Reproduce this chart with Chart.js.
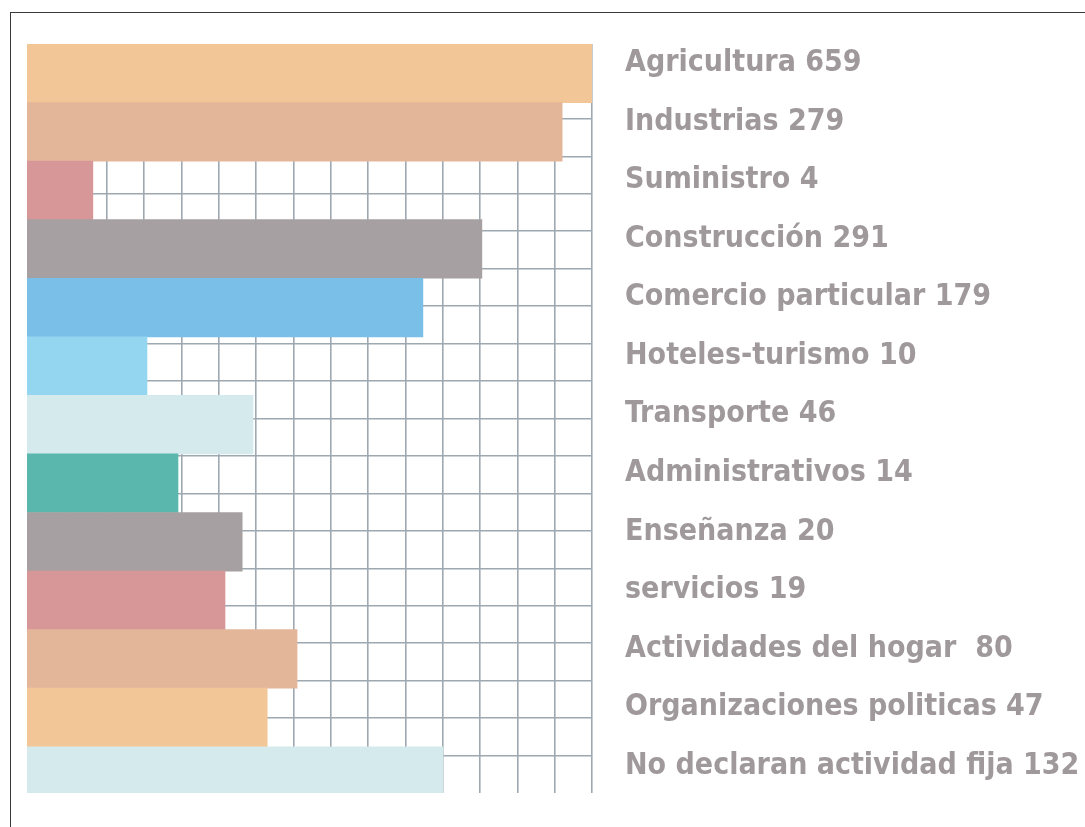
<!DOCTYPE html>
<html>
<head>
<meta charset="utf-8">
<script src="https://cdn.jsdelivr.net/npm/chart.js@4.4.1/dist/chart.umd.min.js"></script>
<style>
  html, body { margin: 0; padding: 0; background: #fff; }
  #wrap { position: relative; width: 1085px; height: 827px; }
  #marco {
    position: absolute; left: 10px; top: 12px; right: 0; bottom: 0;
    border-top: 1.5px solid #3a3a3a; border-left: 1.5px solid #3a3a3a;
    pointer-events: none;
  }
</style>
</head>
<body>
<div id="wrap">
  <canvas id="grafico" width="1085" height="827"></canvas>
  <div id="marco"></div>
</div>
<script>
// sectores de actividad y número de personas (texto de la derecha)
const sectores = [
  "Agricultura", "Industrias", "Suministro", "Construcción", "Comercio particular",
  "Hoteles-turismo", "Transporte", "Administrativos", "Enseñanza", "servicios",
  "Actividades del hogar ", "Organizaciones politicas", "No declaran actividad fija"
];
const personas = [659, 279, 4, 291, 179, 10, 46, 14, 20, 19, 80, 47, 132];

// largo de cada barra tal como está dibujada, en cuadros de la cuadrícula
const largoBarra = [15.0, 14.2, 1.63, 12.05, 10.47, 3.08, 5.92, 3.91, 5.63, 5.17, 7.1, 6.3, 11.01];

const colores = [
  "#f2c696", "#e3b69a", "#d79798", "#a6a0a2", "#7abfe7", "#94d5ef", "#d5eaec",
  "#5ab7ad", "#a6a0a2", "#d79798", "#e3b69a", "#f2c696", "#d5eaec"
];

const etiquetas = sectores.map((s, i) => `${s} ${personas[i]}`);

const X_MIN = -0.134; // las barras empiezan un poco antes de la cuadrícula
const colorGrid = "#9ea8b0";

new Chart(document.getElementById("grafico"), {
  type: "bar",
  data: {
    datasets: [
      {
        data: largoBarra.map((v, i) => ({ x: v, y: i })),
        backgroundColor: colores,
        borderWidth: 0,
        base: X_MIN,
        categoryPercentage: 1,
        barPercentage: 1,
        xAxisID: "x",
        yAxisID: "y",
      },
    ],
  },
  options: {
    indexAxis: "y",
    responsive: false,
    animation: false,
    layout: { padding: { left: 27, top: 44, right: 0, bottom: 34 } },
    plugins: { legend: { display: false }, tooltip: { enabled: false } },
    scales: {
      x: {
        type: "linear",
        position: "bottom",
        min: X_MIN,
        max: 15,
        offset: false,
        grid: { color: colorGrid, lineWidth: 1.6, drawTicks: false, offset: false },
        border: { display: false },
        ticks: { display: false },
        afterBuildTicks: (axis) => {
          axis.ticks = [];
          for (let i = 0; i <= 15; i++) axis.ticks.push({ value: i });
        },
        afterFit: (axis) => {
          axis.height = 0;
          axis.paddingLeft = axis.paddingRight = 0;
        },
      },
      y: {
        type: "linear",
        position: "right",
        reverse: true,
        min: -0.5,
        max: 12.29,
        offset: false,
        grid: { display: false, drawTicks: false, offset: false },
        border: { display: false },
        ticks: {
          color: "#9f999c",
          padding: 33,
          labelOffset: -10,
          font: { family: "'DejaVu Sans Condensed', sans-serif", size: 30, weight: "bold" },
          callback: (v) => etiquetas[v],
        },
        afterBuildTicks: (axis) => {
          axis.ticks = etiquetas.map((_, i) => ({ value: i }));
        },
        afterFit: (axis) => {
          axis.width = 1085 - 592;
          axis.paddingTop = axis.paddingBottom = 0;
        },
      },
      g: {
        axis: "y",
        type: "linear",
        position: "left",
        reverse: true,
        min: 0,
        max: 20,
        offset: false,
        grid: { color: colorGrid, lineWidth: 1.6, drawTicks: false, offset: false },
        border: { display: false },
        ticks: { display: false },
        afterBuildTicks: (axis) => {
          // sin línea en el borde de arriba ni en el de abajo
          axis.ticks = [];
          for (let i = 1; i < 20; i++) axis.ticks.push({ value: i });
        },
        afterFit: (axis) => {
          axis.width = 0;
          axis.paddingTop = axis.paddingBottom = 0;
        },
      },
    },
  },
});
</script>
</body>
</html>
